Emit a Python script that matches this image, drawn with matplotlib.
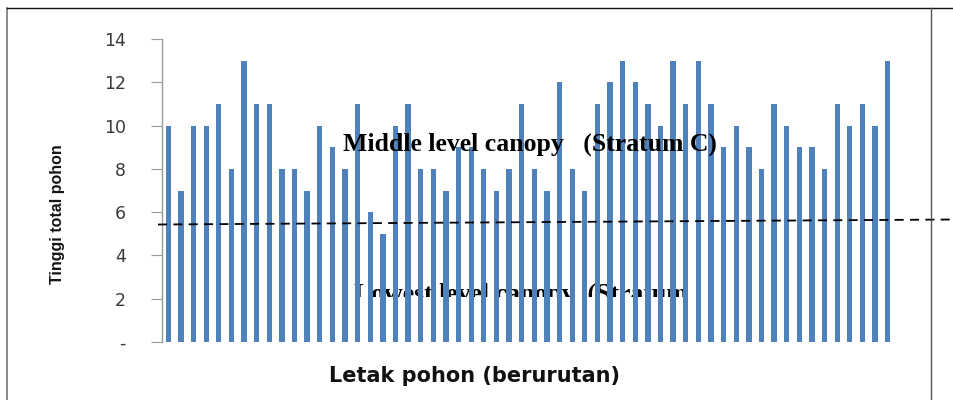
import matplotlib
matplotlib.use("Agg")
import matplotlib.pyplot as plt
from matplotlib.lines import Line2D
from matplotlib.transforms import Bbox, TransformedBbox

heights = [10, 7, 10, 10, 11, 8, 13, 11, 11, 8, 8, 7, 10, 9, 8, 11, 6, 5, 10, 11, 8,
           8, 7, 9, 9, 8, 7, 8, 11, 8, 7, 12, 8, 7, 11, 12, 13, 12, 11, 10,
           13, 11, 13, 11, 9, 10, 9, 8, 11, 10, 9, 9, 8, 11, 10, 11, 10, 13]
yticks = [0, 2, 4, 6, 8, 10, 12, 14]
ytick_labels = ["-", "2", "4", "6", "8", "10", "12", "14"]
middle_text = "Middle level canopy   (Stratum C)"
lower_text = "Lowest level canopy  (Stratum"
xlabel = "Letak pohon (berurutan)"
ylabel = "Tinggi total pohon"

W, H = 954, 400
fig = plt.figure(figsize=(W / 100, H / 100), dpi=100)
ax = fig.add_axes([162 / W, 1 - 342 / H, (894 - 162) / W, (342 - 39) / H])

x = list(range(len(heights)))
ax.bar(x, heights, width=0.42, color="#4F81BD", zorder=2)
ax.set_xlim(-0.5, len(heights) - 0.5)
ax.set_ylim(0, 14)
ax.set_yticks(yticks)
ax.set_yticklabels(ytick_labels, fontsize=12.5, color="#3a3a3a", family=["DejaVu Sans"])
ax.tick_params(axis="y", length=8, width=0.8, color="#9a9a9a", pad=18, direction="out")
ax.set_xticks([])
for s in ["top", "right", "bottom"]:
    ax.spines[s].set_visible(False)
ax.spines["left"].set_color("#9a9a9a")
ax.spines["left"].set_linewidth(1.0)

# axis titles
fig.text(58 / W, 1 - 214 / H, ylabel, rotation=90, ha="center", va="center",
         fontsize=11.5, fontweight="bold", family=["Liberation Sans", "DejaVu Sans"], color="#151515")
fig.text(475 / W, 1 - 376 / H, xlabel, ha="center", va="center",
         fontsize=15, fontweight="bold", family=["DejaVu Sans"], color="#111111")

# annotation texts
fig.text(530 / W, 1 - 151 / H, middle_text, ha="center", va="baseline",
         fontsize=18.5, fontweight="bold", family=["Liberation Serif", "DejaVu Serif"], color="black")
t = ax.text(521 / W, 1 - 301 / H, lower_text, ha="center", va="baseline",
            transform=fig.transFigure, zorder=1,
            fontsize=18.5, fontweight="bold", family=["Liberation Serif", "DejaVu Serif"], color="black")
clip = TransformedBbox(Bbox.from_extents(0, 1 - 297 / H, 1, 1), fig.transFigure)
t.set_clip_box(clip)
t.set_clip_on(True)

# dashed stratum boundary
fig.add_artist(Line2D([158 / W, 954 / W], [1 - 224.5 / H, 1 - 219.5 / H],
                      transform=fig.transFigure, color="black", lw=1.3,
                      linestyle=(0, (5, 3.5))))

# frame lines
fig.add_artist(Line2D([7 / W, 7 / W], [0, 1 - 8 / H], transform=fig.transFigure, color="#777777", lw=1.2))
fig.add_artist(Line2D([7 / W, 1], [1 - 8 / H, 1 - 8 / H], transform=fig.transFigure, color="#111111", lw=1.0))
fig.add_artist(Line2D([931 / W, 931 / W], [0, 1 - 8 / H], transform=fig.transFigure, color="#555555", lw=1.0))

fig.savefig("out.png", dpi=100)
